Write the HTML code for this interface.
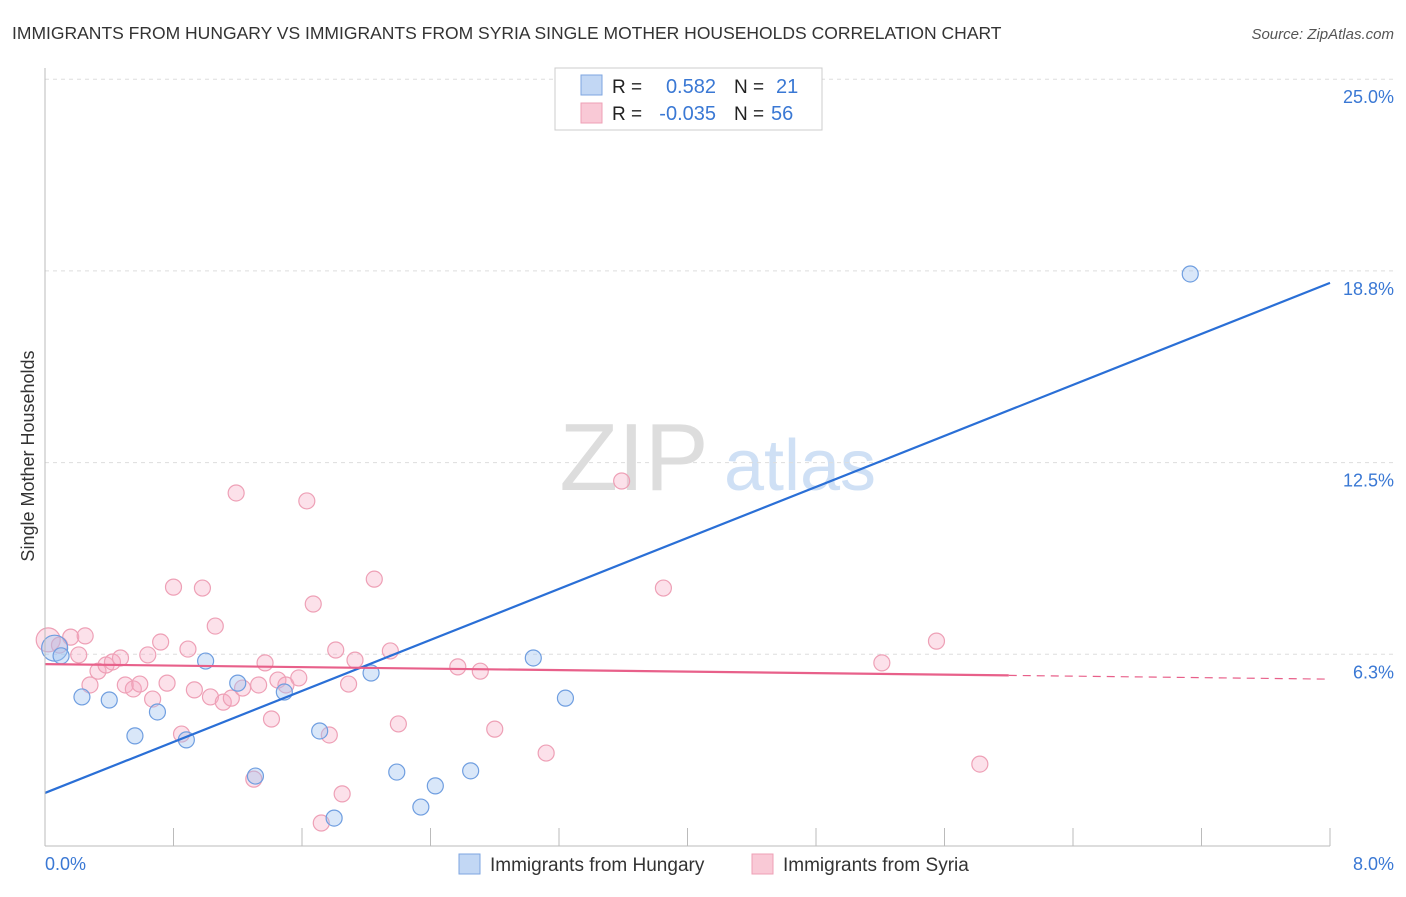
<!DOCTYPE html>
<html><head><meta charset="utf-8"><style>
body{margin:0;background:#fff;font-family:"Liberation Sans",sans-serif;}
svg text{font-family:"Liberation Sans",sans-serif;}
</style></head><body>
<svg id="c" width="1406" height="892" xmlns="http://www.w3.org/2000/svg">
<text x="12" y="39" font-size="17.5" fill="#333">IMMIGRANTS FROM HUNGARY VS IMMIGRANTS FROM SYRIA SINGLE MOTHER HOUSEHOLDS CORRELATION CHART</text>
<text x="1394" y="39" font-size="15" fill="#555" font-style="italic" text-anchor="end">Source: ZipAtlas.com</text>
<text x="634" y="490" font-size="96" fill="#ddd" font-family="Liberation Serif" text-anchor="middle">ZIP</text>
<text x="800" y="490" font-size="72" fill="#cfe0f5" text-anchor="middle">atlas</text>
<text transform="translate(34,456) rotate(-90)" font-size="18" fill="#333" text-anchor="middle">Single Mother Households</text>
<g id="grid"></g><g id="pts"></g><g id="lines"></g>
<line x1="45" y1="68" x2="45" y2="846" stroke="#bbb"/>
<line x1="45" y1="846" x2="1330" y2="846" stroke="#bbb"/>
<text x="45" y="870" font-size="18" fill="#3a78d4">0.0%</text>
<text x="1394" y="870" font-size="18" fill="#3a78d4" text-anchor="end">8.0%</text>
<g>
<rect x="555" y="68" width="267" height="62" fill="#fff" stroke="#ccc"/>
<rect x="581" y="75" width="21" height="20" fill="#c2d7f4" stroke="#7ea6e0"/>
<rect x="581" y="103" width="21" height="20" fill="#f9c9d6" stroke="#eea0b6"/>
<text x="612" y="93" font-size="19" fill="#222">R =</text><text x="716" y="93" font-size="20" fill="#3a78d4" text-anchor="end">0.582</text>
<text x="734" y="93" font-size="19" fill="#222">N =</text><text x="776" y="93" font-size="20" fill="#3a78d4">21</text>
<text x="612" y="120" font-size="19" fill="#222">R =</text><text x="716" y="120" font-size="20" fill="#3a78d4" text-anchor="end">-0.035</text>
<text x="734" y="120" font-size="19" fill="#222">N =</text><text x="771" y="120" font-size="20" fill="#3a78d4">56</text>
</g>
<g>
<rect x="459" y="854" width="21" height="20" fill="#c2d7f4" stroke="#7ea6e0"/>
<text x="490" y="871" font-size="19" fill="#333">Immigrants from Hungary</text>
<rect x="752" y="854" width="21" height="20" fill="#f9c9d6" stroke="#eea0b6"/>
<text x="783" y="871" font-size="19" fill="#333">Immigrants from Syria</text>
</g>
</svg>
<script>
const yTicks=[6.25,12.5,18.75,25];
const yTickLabels=["6.3%","12.5%","18.8%","25.0%"];
const xTicks=[0,0.8,1.6,2.4,3.2,4.0,4.8,5.6,6.4,7.2,8.0];
const hungaryX=[0.06,0.1,0.23,0.40,0.56,0.70,0.88,1.00,1.20,1.31,1.49,1.71,1.80,2.03,2.19,2.34,2.43,2.65,3.04,3.24,3.54,7.13];
const hungaryY=[6.45,6.2,4.86,4.76,3.59,4.37,3.46,6.03,5.31,2.28,5.02,3.75,0.91,5.64,2.41,1.27,1.96,2.45,6.13,4.82,24.8,18.65];
const syriaX=[0.02,0.09,0.16,0.21,0.25,0.28,0.33,0.38,0.42,0.47,0.50,0.55,0.59,0.64,0.67,0.72,0.76,0.80,0.85,0.89,0.93,0.98,1.03,1.06,1.11,1.16,1.19,1.23,1.30,1.33,1.37,1.41,1.45,1.50,1.58,1.63,1.67,1.72,1.77,1.81,1.85,1.89,1.93,2.05,2.15,2.20,2.57,2.71,2.80,3.12,3.59,3.85,5.21,5.55,5.82];
const syriaY=[6.72,6.55,6.81,6.23,6.85,5.25,5.7,5.9,6.0,6.13,5.25,5.12,5.28,6.23,4.79,6.65,5.31,8.44,3.65,6.42,5.09,8.41,4.86,7.17,4.69,4.82,11.51,5.15,2.18,5.25,5.97,4.14,5.41,5.25,5.48,11.25,7.89,0.75,3.62,6.39,1.7,5.28,6.06,8.7,6.36,3.98,5.84,5.7,3.81,3.03,11.9,8.41,5.97,6.68,2.67];
const hungaryTrend=[1.73,18.36];
const syriaTrend=[5.93,5.44];
const sx=v=>45+v/8*1285, sy=v=>846-v/6.25*191.7;
const NS="http://www.w3.org/2000/svg";
function mk(t,a,p){const e=document.createElementNS(NS,t);for(const k in a)e.setAttribute(k,a[k]);p.appendChild(e);return e;}
const g=document.getElementById('grid');
yTicks.forEach((t,i)=>{
 const l=mk('line',{x1:45,x2:1394,y1:sy(t),y2:sy(t),stroke:'#ddd','stroke-dasharray':'4,4'},g);
 
 
 const tx=mk('text',{x:1394,y:sy(t)+24,'font-size':18,fill:'#3a78d4','text-anchor':'end'},g);
 tx.textContent=yTickLabels[i];
 
 
});
xTicks.forEach(t=>{
 const l=mk('line',{x1:sx(t),x2:sx(t),y1:828,y2:846,stroke:'#bbb'},g);
 
 
});
const p=document.getElementById('pts');
syriaX.forEach((x,i)=>{
 const c=mk('circle',{cx:sx(x),cy:sy(syriaY[i]),r:i==0?12:8,fill:'rgba(246,170,195,0.35)',stroke:'#eea0b6','stroke-width':1.2},p);
 
 
});
hungaryX.forEach((x,i)=>{
 const c=mk('circle',{cx:sx(x),cy:sy(hungaryY[i]),r:i==0?13:8,fill:'rgba(160,195,240,0.4)',stroke:'#6f9ee0','stroke-width':1.2},p);
 
 
});
const L=document.getElementById('lines');
const bl=mk('line',{x1:sx(0),y1:sy(hungaryTrend[0]),x2:sx(8),y2:sy(hungaryTrend[1]),stroke:'#2a6fd6','stroke-width':2.2},L);


const sm=v=>syriaTrend[0]+(syriaTrend[1]-syriaTrend[0])*v/8;
const pl=mk('line',{x1:sx(0),y1:sy(sm(0)),x2:sx(6),y2:sy(sm(6)),stroke:'#e8608a','stroke-width':2.2},L);


const pd=mk('line',{x1:sx(6),y1:sy(sm(6)),x2:sx(8),y2:sy(sm(8)),stroke:'#e8608a','stroke-width':1.2,'stroke-dasharray':'8,6'},L);


</script>
</body></html>
